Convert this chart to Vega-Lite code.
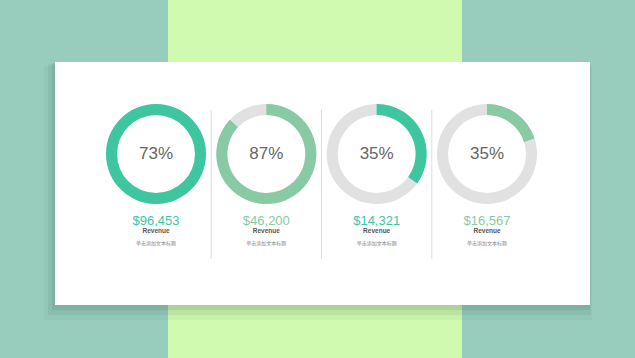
{
  "$schema": "https://vega.github.io/schema/vega-lite/v6.json",
  "width": 635,
  "height": 358,
  "autosize": "none",
  "padding": 0,
  "background": "#98CDBE",
  "config": {"view": {"stroke": null}, "font": "Liberation Sans"},
  "data": {
    "values": [
      {"card": "c1", "pct": "73%", "amount": "$96,453", "shown": 100},
      {"card": "c2", "pct": "87%", "amount": "$46,200", "shown": 87},
      {"card": "c3", "pct": "35%", "amount": "$14,321", "shown": 35},
      {"card": "c4", "pct": "35%", "amount": "$16,567", "shown": 20}
    ]
  },
  "encoding": {
    "x": {
      "field": "card",
      "type": "nominal",
      "scale": {"type": "point", "domain": ["c1", "c2", "c3", "c4"], "range": [156, 487], "padding": 0},
      "axis": null
    }
  },
  "layer": [
    {
      "transform": [{"filter": "datum.card == 'c1'"}],
      "mark": {"type": "rect", "color": "#CFFAAF"},
      "encoding": {"x": {"value": 168}, "x2": {"value": 462}, "y": {"value": 0}, "y2": {"value": 358}}
    },
    {
      "transform": [{"filter": "datum.card == 'c1'"}],
      "mark": {"type": "rect", "color": "#1f4a3e", "opacity": 0.05},
      "encoding": {"x": {"value": 44}, "x2": {"value": 592}, "y": {"value": 66}, "y2": {"value": 320}}
    },
    {
      "transform": [{"filter": "datum.card == 'c1'"}],
      "mark": {"type": "rect", "color": "#1f4a3e", "opacity": 0.07},
      "encoding": {"x": {"value": 48}, "x2": {"value": 591}, "y": {"value": 64}, "y2": {"value": 315}}
    },
    {
      "transform": [{"filter": "datum.card == 'c1'"}],
      "mark": {"type": "rect", "color": "#1f4a3e", "opacity": 0.1},
      "encoding": {"x": {"value": 52}, "x2": {"value": 590}, "y": {"value": 63}, "y2": {"value": 310}}
    },
    {
      "transform": [{"filter": "datum.card == 'c1'"}],
      "mark": {"type": "rect", "color": "#ffffff"},
      "encoding": {"x": {"value": 55}, "x2": {"value": 590}, "y": {"value": 62}, "y2": {"value": 305}}
    },
    {
      "transform": [{"filter": "datum.card != 'c1'"}],
      "mark": {"type": "rule", "color": "#dddddd", "strokeWidth": 1, "xOffset": -55.2},
      "encoding": {"y": {"value": 110}, "y2": {"value": 259}}
    },
    {
      "mark": {"type": "arc", "radius": 50, "radius2": 39, "theta": 0, "theta2": 6.2832, "color": "#E1E1E1"},
      "encoding": {"y": {"value": 154}}
    },
    {
      "mark": {"type": "arc", "radius": 50, "radius2": 39},
      "encoding": {
        "y": {"value": 154},
        "theta": {"field": "shown", "type": "quantitative", "stack": null, "scale": {"domain": [0, 100], "range": [0, 6.2832]}},
        "theta2": {"value": 0},
        "color": {"field": "card", "type": "nominal", "scale": {"domain": ["c1", "c2", "c3", "c4"], "range": ["#3EC6A1", "#88CAA3", "#3EC6A1", "#88CAA3"]}, "legend": null}
      }
    },
    {
      "mark": {"type": "text", "fontSize": 17, "color": "#666666", "baseline": "middle"},
      "encoding": {"y": {"value": 154}, "text": {"field": "pct"}}
    },
    {
      "mark": {"type": "text", "fontSize": 13, "baseline": "middle"},
      "encoding": {
        "y": {"value": 221},
        "text": {"field": "amount"},
        "color": {"field": "card", "type": "nominal", "legend": null}
      }
    },
    {
      "mark": {"type": "text", "fontSize": 6.5, "fontWeight": "bold", "color": "#555555", "baseline": "middle"},
      "encoding": {"y": {"value": 231}, "text": {"value": "Revenue"}}
    },
    {
      "mark": {"type": "text", "fontSize": 5, "color": "#888888", "baseline": "middle", "font": "Noto Sans CJK SC"},
      "encoding": {"y": {"value": 243}, "text": {"value": "单击添加文本标题"}}
    }
  ]
}
